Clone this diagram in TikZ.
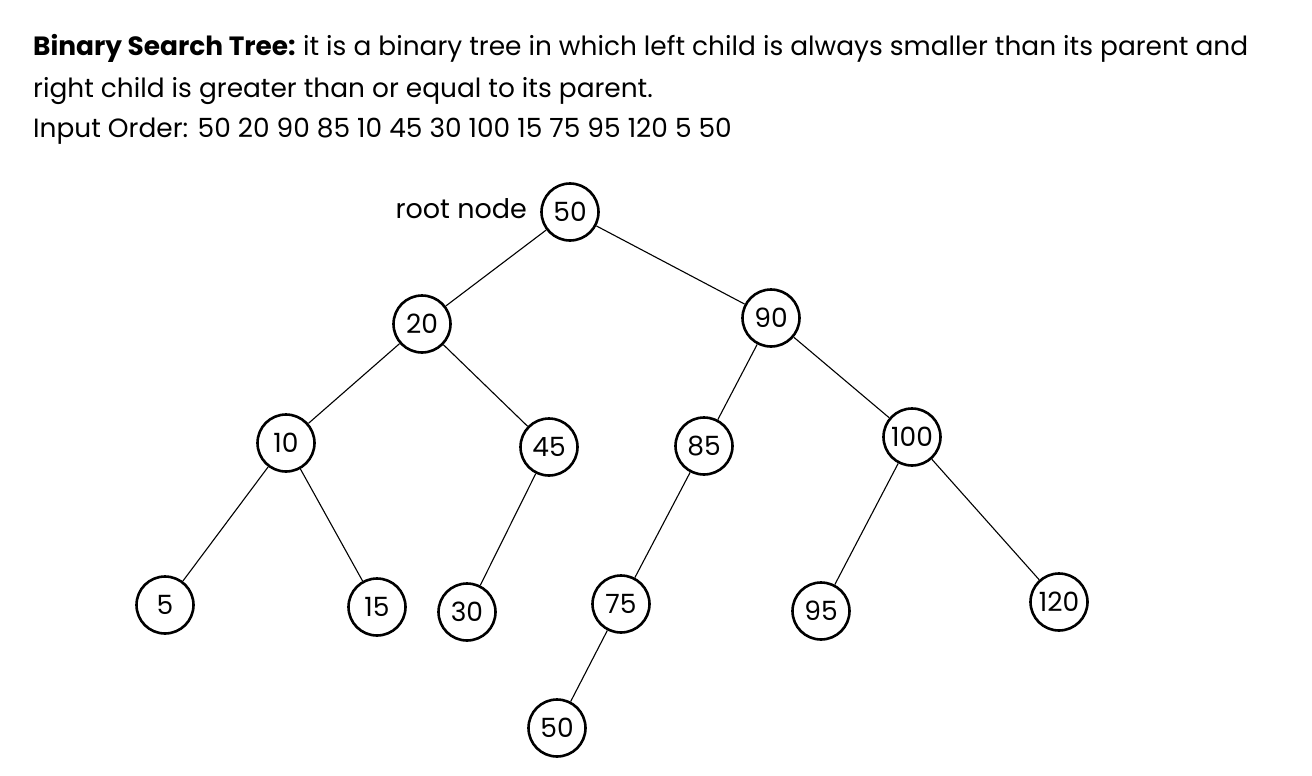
\documentclass[tikz,border=0pt]{standalone}
\usepackage{fontspec}
\setmainfont{Poppins}
\begin{document}
\begin{tikzpicture}[x=1pt,y=-1pt,
  bst/.style={circle,draw,line width=2.6pt,minimum size=57pt,inner sep=0pt,font=\fontsize{26.5}{26.5}\selectfont},
  edge/.style={line width=1.1pt},
  txt/.style={anchor=base west,inner sep=0pt,font=\fontsize{26.4}{30}\selectfont}]
\useasboundingbox (0,0) rectangle (1312,776);
\node[txt] (t1) at (33,56) {\textbf{Binary Search Tree:}\hspace{-2pt} it is a binary tree in which left child is always smaller than its parent and};
\node[txt] (t2) at (33,97) {right child is greater than or equal to its parent.};
\node[txt] (t3) at (33,137) {Input Order: 50 20 90 85 10 45 30 100 15 75 95 120 5 50};
\node[bst] (n50) at (570,212) {50};
\node[txt,anchor=base east,font=\fontsize{27}{30}\selectfont] (rootlbl) at (527,218) {root node};
\node[bst] (n20) at (422,324) {20};
\node[bst] (n90) at (771,318) {90};
\node[bst] (n10) at (286,443) {10};
\node[bst] (n45) at (549,447) {45};
\node[bst] (n85) at (704,446) {85};
\node[bst] (n100) at (912,437) {100};
\node[bst] (n5) at (165,605) {5};
\node[bst] (n15) at (377,607) {15};
\node[bst] (n30) at (467,612) {30};
\node[bst] (n75) at (621,604) {75};
\node[bst] (n95) at (821,611) {95};
\node[bst] (n120) at (1059,602) {120};
\node[bst] (n50b) at (557,728) {50};
\draw[edge] (n50) -- (n20);
\draw[edge] (n50) -- (n90);
\draw[edge] (n20) -- (n10);
\draw[edge] (n20) -- (n45);
\draw[edge] (n90) -- (n85);
\draw[edge] (n90) -- (n100);
\draw[edge] (n10) -- (n5);
\draw[edge] (n10) -- (n15);
\draw[edge] (n45) -- (n30);
\draw[edge] (n85) -- (n75);
\draw[edge] (n100) -- (n95);
\draw[edge] (n100) -- (n120);
\draw[edge] (n75) -- (n50b);
\end{tikzpicture}
\end{document}
